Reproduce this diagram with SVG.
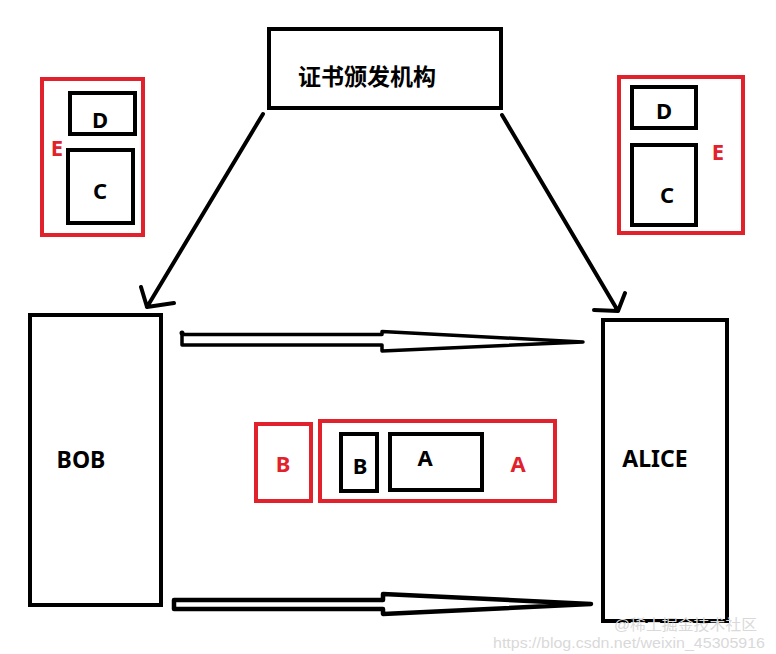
<svg xmlns="http://www.w3.org/2000/svg" width="776" height="654" viewBox="0 0 776 654">
<style>
.blk{fill:none;stroke:#000;stroke-width:4}
.red{fill:none;stroke:#e1212b;stroke-width:4}
.lbl{font-family:"Noto Sans","Liberation Sans",sans-serif;font-weight:bold;font-size:22px;text-anchor:middle;fill:#000}
.rl{fill:#e1212b}
.cn{font-family:"Noto Sans CJK SC",sans-serif;font-weight:bold;font-size:23px;fill:#000}
.ln{fill:none;stroke:#000;stroke-width:4;stroke-linecap:round;stroke-linejoin:round}
.wm{font-family:"Liberation Sans","Noto Sans CJK SC",sans-serif;font-size:15px;fill:#d9d9d9}
</style>
<rect width="776" height="654" fill="#fff"/>
<g id="ca">
<rect class="blk" x="269" y="29" width="232" height="79"/>
<text class="cn" x="298" y="85">证书颁发机构</text>
</g>
<g id="left-e">
<rect class="red" x="42" y="79" width="101" height="156"/>
<text class="lbl rl" x="57" y="156">E</text>
</g>
<g id="left-d">
<rect class="blk" x="70" y="93" width="65" height="41"/>
<text class="lbl" x="100" y="128">D</text>
</g>
<g id="left-c">
<rect class="blk" x="68" y="150" width="65" height="73"/>
<text class="lbl" x="100" y="199">C</text>
</g>
<g id="right-e">
<rect class="red" x="619" y="77" width="124" height="156"/>
<text class="lbl rl" x="718" y="160">E</text>
</g>
<g id="right-d">
<rect class="blk" x="632" y="87" width="64" height="41"/>
<text class="lbl" x="664" y="119">D</text>
</g>
<g id="right-c">
<rect class="blk" x="632" y="145" width="64" height="80"/>
<text class="lbl" x="667" y="203">C</text>
</g>
<g id="bob">
<rect class="blk" x="30" y="315" width="131" height="290"/>
<text class="lbl" x="81" y="468" style="font-size:23px">BOB</text>
</g>
<g id="alice">
<rect class="blk" x="603" y="320" width="124" height="301"/>
<text class="lbl" x="655" y="467" style="font-size:23px">ALICE</text>
</g>
<g id="red-b">
<rect class="red" x="256" y="424" width="55" height="77"/>
<text class="lbl rl" x="283" y="472">B</text>
</g>
<g id="red-a">
<rect class="red" x="320" y="421" width="235" height="80"/>
<text class="lbl rl" x="518" y="472">A</text>
</g>
<g id="blk-b">
<rect class="blk" x="341" y="434" width="36" height="57"/>
<text class="lbl" x="360" y="474">B</text>
</g>
<g id="blk-a">
<rect class="blk" x="390" y="434" width="92" height="56"/>
<text class="lbl" x="425" y="466">A</text>
</g>
<g id="connectors">
<path class="ln" d="M263,114 L147,307 M141,287 L147,307 L174,303"/>
<path class="ln" d="M502,115 L618,311 M625,293 L618,311 L594,310"/>
<path class="ln" d="M182,334.5 L382,334.5 L382,331.5 L583,342 L382,351 L382,345 L182,345 Z" style="fill:#fff;stroke-width:3.5"/>
<circle cx="182" cy="333" r="2.5" fill="#000"/>
<path class="ln" d="M174,600 L383,600 L383,594 L591,604 L383,614 L383,609 L174,609 Z" style="fill:#fff;stroke-width:4.5"/>
</g>
<text class="wm" x="614" y="630" textLength="143" lengthAdjust="spacingAndGlyphs">@稀土掘金技术社区</text>
<text class="wm" x="493" y="648" textLength="272" lengthAdjust="spacingAndGlyphs">https://blog.csdn.net/weixin_45305916</text>
</svg>
